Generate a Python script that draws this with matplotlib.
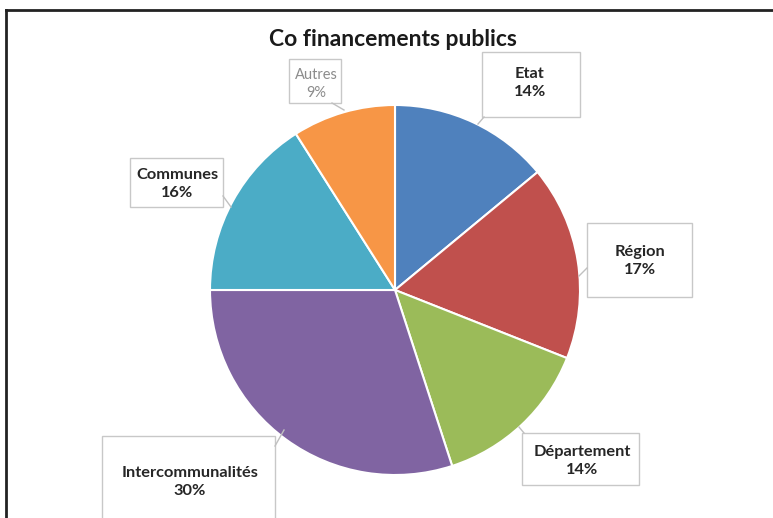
import matplotlib
matplotlib.use("Agg")
import matplotlib.pyplot as plt
from matplotlib.lines import Line2D
from matplotlib.patches import Rectangle

title = "Co financements publics"
categories = ["Etat", "Région", "Département", "Intercommunalités", "Communes", "Autres"]
values = [14, 17, 14, 30, 16, 9]
colors = ["#4F81BD", "#C0504D", "#9BBB59", "#8064A2", "#4BACC6", "#F79646"]

# label layout in pixels: box (left, top, right, bottom), text center, tail (from, to)
boxes = [(482, 52, 580, 117), (587, 223, 692, 297), (522, 433, 639, 485),
         (102, 436, 275, 530), (130, 158, 223, 207), (289, 59, 341, 103)]
text_centers = [(530, 83), (640, 261), (582, 461), (190, 482), (177, 184), (316, 84)]
tails = [((484, 117), (478, 124)), ((587, 268), (579, 276)), ((524, 433), (519, 427)),
         ((275, 446), (284, 430)), ((223, 196), (231, 207)), ((332, 103), (344, 110))]

W, H = 773, 518
fig = plt.figure(figsize=(W / 100, H / 100), dpi=100)
ax = fig.add_axes([0, 0, 1, 1])

cx, cy, r = 395, H - 290, 185
ax.pie(values, colors=colors, startangle=90, counterclock=False,
       center=(cx, cy), radius=r, frame=True,
       wedgeprops=dict(edgecolor="white", linewidth=1.5))
ax.set_xlim(0, W)
ax.set_ylim(0, H)
ax.set_aspect("equal")
ax.axis("off")

total = sum(values)
for i, (cat, v) in enumerate(zip(categories, values)):
    pct = round(100 * v / total)
    l, t, rr, b = boxes[i]
    ax.add_patch(Rectangle((l, H - b), rr - l, b - t, fc="white", ec="#C8C8C8",
                           lw=1.0, zorder=3))
    (x0, y0), (x1, y1) = tails[i]
    ax.plot([x0, x1], [H - y0, H - y1], color="#C0C0C0", lw=1.0, zorder=3)
    is_other = cat == "Autres"
    tx, ty = text_centers[i]
    ax.text(tx, H - ty, f"{cat}\n{pct}%", ha="center", va="center",
            multialignment="center", fontsize=10.5 if is_other else 11.8,
            fontweight="normal" if is_other else "bold",
            color="#8C8C8C" if is_other else "#262626",
            family=["Lato", "DejaVu Sans"], linespacing=1.4, zorder=4)

ax.text(393, H - 40, title, ha="center", va="center", fontsize=16.5,
        fontweight="bold", color="#1A1A1A", family=["Lato", "DejaVu Sans"])

# screenshot frame (top and left edges)
fig.add_artist(Line2D([6 / W, 1], [1 - 10 / H, 1 - 10 / H], transform=fig.transFigure,
                      color="#222222", lw=2))
fig.add_artist(Line2D([6 / W, 6 / W], [0, 1 - 10 / H], transform=fig.transFigure,
                      color="#222222", lw=2))

fig.savefig("out.png", dpi=100, facecolor="white")
